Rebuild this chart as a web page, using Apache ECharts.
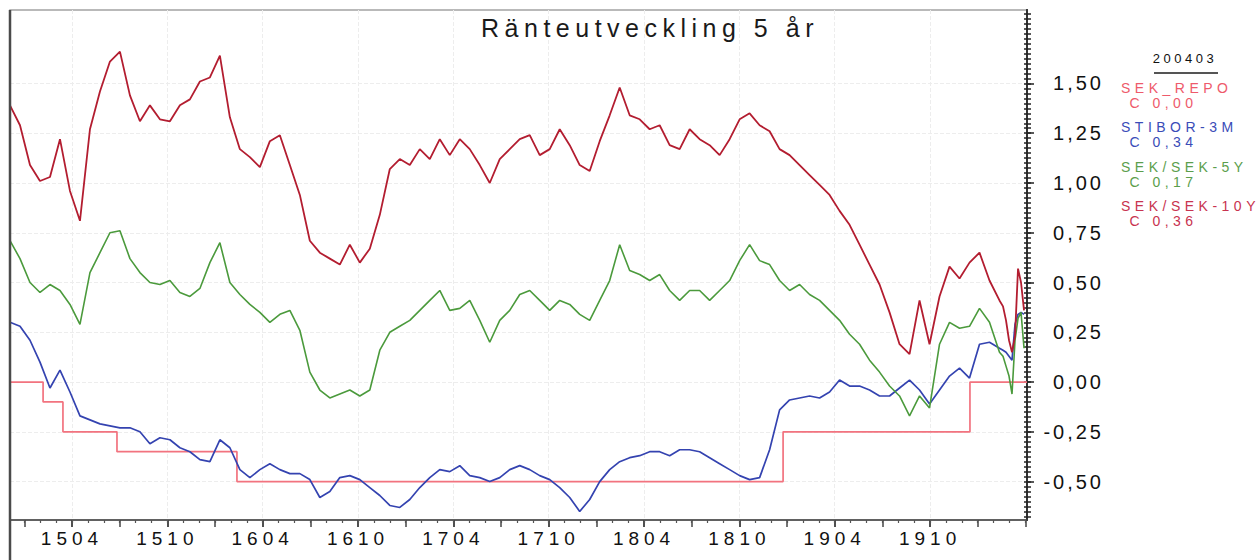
<!DOCTYPE html>
<html>
<head>
<meta charset="UTF-8">
<title>Ränteutveckling 5 år</title>
<script src="https://cdn.jsdelivr.net/npm/echarts@6/dist/echarts.min.js"></script>
<style>
  html, body { margin: 0; padding: 0; background: #fff; }
  #chart { width: 1259px; height: 560px; }
  /* the original print is wide-set, so space the letters out (svg renderer) */
  #chart text[style*="25px"] { letter-spacing: 5.5px; }
  #chart text[style*="19px"] { letter-spacing: 5px; }
  #chart text[style*="20px"] { letter-spacing: 3px; }
  #chart text[style*="14px"] { letter-spacing: 4.5px; }
  #chart text[style*="13px"] { letter-spacing: 3.5px; }
</style>
</head>
<body>
<div id="chart"></div>
<script>
// x is months counted from Jan 2015 (3 = Apr 2015)
var xMin = -0.902, xMax = 63.10;
var yMin = -0.693, yMax = 1.869;

// main samples, about every 19 days
var sampleStart = -0.902, sampleStep = 0.629;
// last weeks sampled tighter
var tailStart = 61.59, tailStep = 0.189;

var sek10y = [1.39, 1.29, 1.09, 1.01, 1.03, 1.22, 0.96, 0.81, 1.27, 1.46,
  1.61, 1.66, 1.44, 1.31, 1.39, 1.32, 1.31, 1.39, 1.42, 1.51,
  1.53, 1.64, 1.33, 1.17, 1.13, 1.08, 1.21, 1.24, 1.09, 0.94,
  0.71, 0.65, 0.62, 0.59, 0.69, 0.60, 0.67, 0.84, 1.07, 1.12,
  1.09, 1.17, 1.12, 1.22, 1.14, 1.22, 1.17, 1.09, 1.00, 1.12,
  1.17, 1.22, 1.24, 1.14, 1.17, 1.27, 1.19, 1.09, 1.06, 1.21,
  1.34, 1.48, 1.34, 1.32, 1.27, 1.29, 1.19, 1.17, 1.27, 1.22,
  1.19, 1.14, 1.22, 1.32, 1.35, 1.29, 1.26, 1.17, 1.14, 1.09,
  1.04, 0.99, 0.94, 0.86, 0.79, 0.69, 0.59, 0.49, 0.35, 0.19,
  0.14, 0.41, 0.19, 0.43, 0.58, 0.52, 0.60, 0.65, 0.51, 0.41];
var sek10yTail = [0.38, 0.31, 0.21, 0.15, 0.23, 0.57, 0.50, 0.36];

var sek5y = [0.71, 0.62, 0.50, 0.45, 0.49, 0.46, 0.39, 0.29, 0.55, 0.65,
  0.75, 0.76, 0.62, 0.55, 0.50, 0.49, 0.51, 0.45, 0.43, 0.47,
  0.60, 0.70, 0.50, 0.44, 0.39, 0.35, 0.30, 0.34, 0.36, 0.26,
  0.05, -0.04, -0.08, -0.06, -0.04, -0.07, -0.04, 0.16, 0.25, 0.28,
  0.31, 0.36, 0.41, 0.46, 0.36, 0.37, 0.41, 0.31, 0.20, 0.31,
  0.36, 0.44, 0.46, 0.41, 0.36, 0.41, 0.39, 0.34, 0.31, 0.41,
  0.51, 0.69, 0.56, 0.54, 0.51, 0.54, 0.46, 0.41, 0.46, 0.46,
  0.41, 0.46, 0.51, 0.61, 0.69, 0.61, 0.59, 0.51, 0.46, 0.49,
  0.44, 0.41, 0.36, 0.31, 0.24, 0.19, 0.11, 0.05, -0.02, -0.07,
  -0.17, -0.07, -0.13, 0.19, 0.30, 0.27, 0.28, 0.37, 0.30, 0.15];
var sek5yTail = [0.13, 0.08, 0.03, -0.06, 0.21, 0.32, 0.35, 0.17];

var stibor3m = [0.30, 0.28, 0.21, 0.10, -0.03, 0.06, -0.05, -0.17, -0.19, -0.21,
  -0.22, -0.23, -0.23, -0.25, -0.31, -0.28, -0.29, -0.33, -0.35, -0.39,
  -0.40, -0.29, -0.33, -0.44, -0.48, -0.44, -0.41, -0.44, -0.46, -0.46,
  -0.49, -0.58, -0.55, -0.48, -0.47, -0.49, -0.53, -0.57, -0.62, -0.63,
  -0.59, -0.53, -0.48, -0.44, -0.45, -0.42, -0.47, -0.48, -0.50, -0.48,
  -0.44, -0.42, -0.44, -0.47, -0.49, -0.53, -0.58, -0.65, -0.59, -0.50,
  -0.44, -0.40, -0.38, -0.37, -0.35, -0.35, -0.37, -0.34, -0.34, -0.35,
  -0.38, -0.41, -0.44, -0.47, -0.49, -0.48, -0.34, -0.14, -0.09, -0.08,
  -0.07, -0.08, -0.05, 0.01, -0.02, -0.02, -0.04, -0.07, -0.07, -0.03,
  0.01, -0.04, -0.11, -0.04, 0.03, 0.07, 0.02, 0.19, 0.20, 0.17];
var stibor3mTail = [0.16, 0.15, 0.13, 0.11, 0.29, 0.34, 0.35, 0.34];

// repo rate: level holds from each month mark to the next
var repoMonths = [-0.902, 1.18, 2.43, 5.83, 13.38, 47.75, 59.51, 63.10];
var repoLevels = [0.00, -0.10, -0.25, -0.35, -0.50, -0.25, 0.00, 0.00];

var labelMonths = [3, 9, 15, 21, 27, 33, 39, 45, 51, 57];
var yLabels = [-0.5, -0.25, 0, 0.25, 0.5, 0.75, 1, 1.25, 1.5];
var lastDate = '200403';

function toPoints(values, start, step) {
  return values.map(function (v, i) { return [start + i * step, v]; });
}
function yymm(m) {
  m = Math.round(m);
  var y = 2015 + Math.floor(m / 12);
  var mo = m - (y - 2015) * 12 + 1;
  return String(y).slice(2) + (mo < 10 ? '0' : '') + mo;
}
function comma(v) {
  return v.toFixed(2).replace('.', ',');
}

var quarterTicks = [], monthTicks = [], yMinorTicks = [];
for (var m = 0; m <= 63; m++) {
  monthTicks.push(m);
  if (m % 3 === 0) quarterTicks.push(m);
}
for (var k = -27; k <= 74; k++) yMinorTicks.push(Math.round(k * 25) / 1000);

var font = 'Liberation Sans';
var names = ['SEK_REPO', 'STIBOR-3M', 'SEK/SEK-5Y', 'SEK/SEK-10Y'];
var colors = ['#ee5a6b', '#3a4cb8', '#5b9e4c', '#c8334f'];
var lineColors = ['#f2737f', '#3443b0', '#4b9a3c', '#b31d30'];
var lastValues = {
  'SEK_REPO': repoLevels[repoLevels.length - 1],
  'STIBOR-3M': stibor3mTail[stibor3mTail.length - 1],
  'SEK/SEK-5Y': sek5yTail[sek5yTail.length - 1],
  'SEK/SEK-10Y': sek10yTail[sek10yTail.length - 1]
};

var repoData = repoMonths.map(function (m, i) { return [m, repoLevels[i]]; });

var chart = echarts.init(document.getElementById('chart'), null, { renderer: 'svg' });
chart.setOption({
  animation: false,
  backgroundColor: '#fff',
  title: {
    text: 'Ränteutveckling 5 år',
    left: 645, top: 10,
    textAlign: 'center',
    textStyle: { fontFamily: font, fontSize: 25, fontWeight: 'normal', color: '#1a1a1a' }
  },
  legend: {
    orient: 'vertical',
    left: 1116, top: 80,
    padding: 0,
    itemGap: 9.5,
    itemWidth: 0,
    icon: 'none',
    selectedMode: false,
    textStyle: { fontFamily: font, fontSize: 14, lineHeight: 15 },
    formatter: function (name) { return name + '\n C ' + comma(lastValues[name]); },
    data: names.map(function (n, i) { return { name: n, textStyle: { color: colors[i] } }; })
  },
  grid: {
    left: 10, right: 232, top: 10, bottom: 40,
    show: true, borderColor: '#a3a3a3', borderWidth: 1.5,
    outerBoundsMode: 'none'
  },
  xAxis: [{
    type: 'value', position: 'bottom', min: xMin, max: xMax,
    axisLine: { onZero: false, lineStyle: { color: '#444', width: 1.5 } },
    axisTick: { customValues: labelMonths, length: 7, lineStyle: { color: '#444', width: 1.5 } },
    axisLabel: {
      customValues: labelMonths, margin: 9,
      formatter: yymm,
      fontFamily: font, fontSize: 19, color: '#111'
    },
    splitLine: { show: true, lineStyle: { color: '#ededed', type: 'dashed' } }
  }, {
    type: 'value', position: 'bottom', min: xMin, max: xMax,
    axisLine: { show: false, onZero: false },
    axisTick: { customValues: quarterTicks, length: 7, lineStyle: { color: '#444', width: 1.5 } },
    axisLabel: { show: false },
    splitLine: { show: false }
  }, {
    type: 'value', position: 'bottom', min: xMin, max: xMax,
    axisLine: { show: false, onZero: false },
    axisTick: { customValues: monthTicks, length: 3, lineStyle: { color: '#555', width: 1.2 } },
    axisLabel: { show: false },
    splitLine: { show: false }
  }],
  yAxis: [{
    type: 'value', position: 'right', min: yMin, max: yMax,
    axisLine: { show: true, onZero: false, lineStyle: { color: '#333', width: 2 } },
    axisTick: { customValues: yLabels, length: 7, lineStyle: { color: '#222', width: 1.5 } },
    axisLabel: {
      customValues: yLabels, margin: 77, align: 'right',
      formatter: comma,
      fontFamily: font, fontSize: 20, color: '#111'
    },
    splitLine: { show: true, lineStyle: { color: '#ededed', type: 'dashed' } }
  }, {
    type: 'value', position: 'right', min: yMin, max: yMax,
    axisLine: { show: true, onZero: false, lineStyle: { color: '#333', width: 2 } },
    axisTick: { show: true, inside: true, customValues: yMinorTicks, length: 3, lineStyle: { color: '#222', width: 1.5 } },
    axisLabel: { show: false },
    splitLine: { show: false }
  }, {
    type: 'value', position: 'right', min: yMin, max: yMax,
    axisLine: { show: false, onZero: false },
    axisTick: { show: true, customValues: yMinorTicks, length: 4, lineStyle: { color: '#222', width: 1.5 } },
    axisLabel: { show: false },
    splitLine: { show: false }
  }],
  graphic: [{
    type: 'line', z: 100,
    shape: { x1: 10, y1: 10, x2: 10, y2: 560 },
    style: { stroke: '#4a4a4a', lineWidth: 2.5 }
  }, {
    type: 'text', x: 1185, y: 58,
    style: {
      text: lastDate, fill: '#111', font: '13px ' + font,
      textAlign: 'center', textVerticalAlign: 'middle'
    }
  }, {
    type: 'line',
    shape: { x1: 1154, y1: 73, x2: 1218, y2: 73 },
    style: { stroke: '#555', lineWidth: 2 }
  }],
  series: [{
    name: 'SEK_REPO', type: 'line', step: 'end', z: 2,
    showSymbol: false, symbol: 'none',
    lineStyle: { color: lineColors[0], width: 1.7 },
    itemStyle: { color: lineColors[0] },
    data: repoData
  }, {
    name: 'STIBOR-3M', type: 'line', z: 3,
    showSymbol: false, symbol: 'none',
    lineStyle: { color: lineColors[1], width: 1.7 },
    itemStyle: { color: lineColors[1] },
    data: toPoints(stibor3m, sampleStart, sampleStep).concat(toPoints(stibor3mTail, tailStart, tailStep))
  }, {
    name: 'SEK/SEK-5Y', type: 'line', z: 4,
    showSymbol: false, symbol: 'none',
    lineStyle: { color: lineColors[2], width: 1.6 },
    itemStyle: { color: lineColors[2] },
    data: toPoints(sek5y, sampleStart, sampleStep).concat(toPoints(sek5yTail, tailStart, tailStep))
  }, {
    name: 'SEK/SEK-10Y', type: 'line', z: 5,
    showSymbol: false, symbol: 'none',
    lineStyle: { color: lineColors[3], width: 1.8 },
    itemStyle: { color: lineColors[3] },
    data: toPoints(sek10y, sampleStart, sampleStep).concat(toPoints(sek10yTail, tailStart, tailStep))
  }]
});
</script>
</body>
</html>
